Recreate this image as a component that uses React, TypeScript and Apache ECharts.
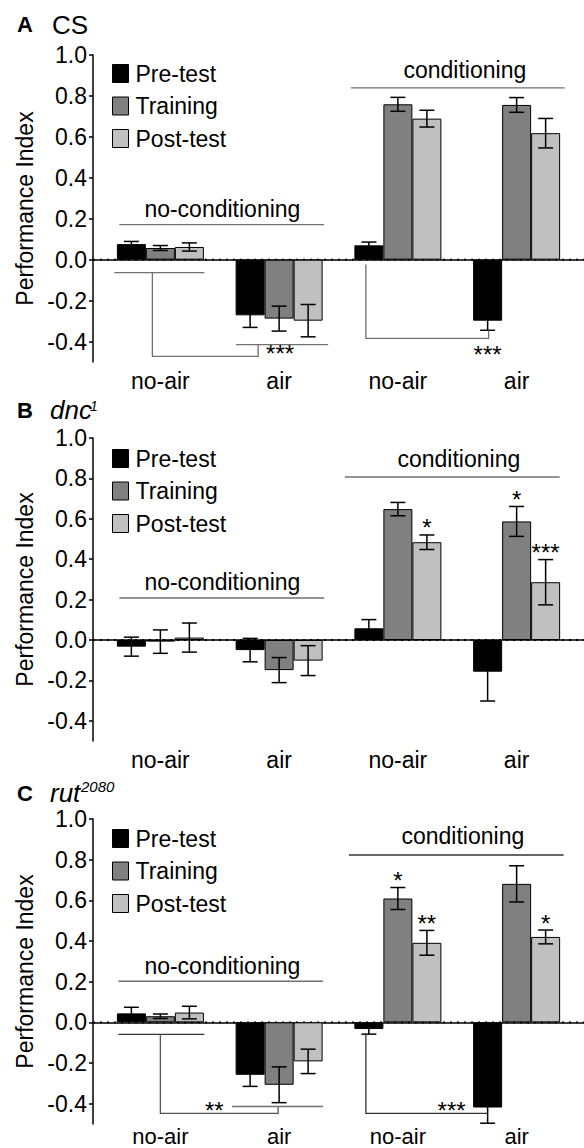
import React, { useEffect, useRef } from 'react';
import * as echarts from 'echarts';

const FONT = '"Liberation Sans", Arial, Helvetica, sans-serif';

const categories = ['no-air', 'air', 'no-air', 'air'];
const seriesNames = ['Pre-test', 'Training', 'Post-test'];
const seriesColors = ['#000000', '#808080', '#c0c0c0'];
const yTickValues = [-0.4, -0.2, 0, 0.2, 0.4, 0.6, 0.8, 1.0];

// Panel A: CS
const csPre = [0.076, -0.272, 0.07, -0.298];
const csPreErr = [0.013, 0.059, 0.016, 0.047];
const csTraining = [0.057, -0.288, 0.759, 0.756];
const csTrainingErr = [0.012, 0.061, 0.034, 0.036];
const csPost = [0.062, -0.298, 0.689, 0.618];
const csPostErr = [0.02, 0.079, 0.041, 0.072];
const csStars: { cat: number; series: number; mark: string }[] = [];

// Panel B: dnc1
const dncPre = [-0.033, -0.05, 0.058, -0.157];
const dncPreErr = [0.047, 0.058, 0.043, 0.145];
const dncTraining = [-0.008, -0.149, 0.648, 0.587];
const dncTrainingErr = [0.058, 0.062, 0.033, 0.074];
const dncPost = [0.012, -0.102, 0.484, 0.286];
const dncPostErr = [0.072, 0.074, 0.036, 0.112];
const dncStars = [
  { cat: 2, series: 2, mark: '*' },
  { cat: 3, series: 1, mark: '*' },
  { cat: 3, series: 2, mark: '***' },
];

// Panel C: rut2080
const rutPre = [0.044, -0.258, -0.033, -0.419];
const rutPreErr = [0.03, 0.057, 0.025, 0.077];
const rutTraining = [0.03, -0.307, 0.609, 0.681];
const rutTrainingErr = [0.011, 0.088, 0.054, 0.089];
const rutPost = [0.048, -0.192, 0.391, 0.42];
const rutPostErr = [0.031, 0.06, 0.061, 0.034];
const rutStars = [
  { cat: 2, series: 1, mark: '*' },
  { cat: 2, series: 2, mark: '**' },
  { cat: 3, series: 2, mark: '*' },
];

const BAR_W = 29;
const CAP = 7.5;
const FS = 23;
const STAR_FS = 24;

type Ann =
  | { kind: 'line'; pts: [number, number, number][]; color?: string }
  | { kind: 'text'; at: [number, number, number]; text: string; star?: boolean };

const annA: Ann[] = [
  { kind: 'text', at: [0, 62, 0.249], text: 'no-conditioning' },
  { kind: 'line', pts: [[0, -41, 0.171], [1, 45, 0.171]] },
  { kind: 'text', at: [2, 67, 0.927], text: 'conditioning' },
  { kind: 'line', pts: [[2, -47, 0.839], [3, 48, 0.839]] },
  { kind: 'line', pts: [[0, -46, -0.063], [0, 44, -0.063]] },
  { kind: 'line', pts: [[0, -8, -0.063], [0, -8, -0.473], [1, -21, -0.473], [1, -21, -0.415]] },
  { kind: 'line', pts: [[1, -43, -0.415], [1, 49, -0.415]] },
  { kind: 'text', at: [1, 1, -0.436], text: '***', star: true },
  { kind: 'line', pts: [[2, -32, -0.024], [2, -32, -0.385], [3, -28, -0.385], [3, -28, -0.346]] },
  { kind: 'text', at: [3, -29, -0.438], text: '***', star: true },
];
const annB: Ann[] = [
  { kind: 'text', at: [0, 62, 0.287], text: 'no-conditioning' },
  { kind: 'line', pts: [[0, -41, 0.208], [1, 45, 0.208]] },
  { kind: 'text', at: [2, 61, 0.896], text: 'conditioning' },
  { kind: 'line', pts: [[2, -53, 0.807], [3, 43, 0.807]] },
];
const annC: Ann[] = [
  { kind: 'text', at: [0, 62, 0.276], text: 'no-conditioning' },
  { kind: 'line', pts: [[0, -42, 0.202], [1, 44, 0.202]] },
  { kind: 'text', at: [2, 65, 0.916], text: 'conditioning' },
  { kind: 'line', pts: [[2, -49, 0.823], [3, 47, 0.823]], color: '#333' },
  { kind: 'line', pts: [[0, -42, -0.059], [0, 44, -0.059]], color: '#333' },
  { kind: 'line', pts: [[0, 0, -0.059], [0, 0, -0.448], [1, -1, -0.448], [1, -1, -0.414]], color: '#555' },
  { kind: 'line', pts: [[1, -47, -0.414], [1, 44, -0.414]] },
  { kind: 'text', at: [0, 54, -0.411], text: '**', star: true },
  { kind: 'line', pts: [[2, -32, -0.059], [2, -32, -0.448], [3, -29, -0.448]], color: '#333' },
  { kind: 'text', at: [3, -65, -0.409], text: '***', star: true },
];

const panels = [
  {
    top: 55, height: 307, legendTop: 57, labelMargin: 7, labelSize: FS,
    values: [csPre, csTraining, csPost], errors: [csPreErr, csTrainingErr, csPostErr],
    stars: csStars, ann: annA,
  },
  {
    top: 438, height: 303, legendTop: 442, labelMargin: 7, labelSize: FS,
    values: [dncPre, dncTraining, dncPost], errors: [dncPreErr, dncTrainingErr, dncPostErr],
    stars: dncStars, ann: annB,
  },
  {
    top: 819, height: 305, legendTop: 822, labelMargin: 1, labelSize: 22,
    values: [rutPre, rutTraining, rutPost], errors: [rutPreErr, rutTrainingErr, rutPostErr],
    stars: rutStars, ann: annC,
  },
];

function buildOption() {
  const grid: any[] = [];
  const xAxis: any[] = [];
  const yAxis: any[] = [];
  const series: any[] = [];
  const legend: any[] = [];

  panels.forEach((p, k) => {
    const bg = 2 * k;
    const fg = 2 * k + 1;
    grid.push({ left: 101, right: 8, top: p.top, height: p.height, outerBoundsMode: 'none', containLabel: false });
    grid.push({ left: 93, right: 0, top: p.top, height: p.height, outerBoundsMode: 'none', containLabel: false });
    xAxis.push({
      type: 'category', gridIndex: bg, data: categories,
      axisLine: { show: false }, axisTick: { show: false },
      axisLabel: {
        fontSize: p.labelSize, color: '#000', margin: p.labelMargin, lineHeight: p.labelSize, fontFamily: FONT,
      },
    });
    xAxis.push({
      type: 'value', gridIndex: fg, min: 0, max: 1,
      axisLine: { show: true, lineStyle: { color: '#000', width: 1.5 } },
      axisTick: { show: false }, axisLabel: { show: false }, splitLine: { show: false },
    });
    yAxis.push({ type: 'value', gridIndex: bg, min: -0.5, max: 1, show: false, splitLine: { show: false } });
    yAxis.push({
      type: 'value', gridIndex: fg, min: -0.5, max: 1,
      axisLine: { show: true, lineStyle: { color: '#000', width: 1.5 } },
      axisTick: { show: true, length: 4, customValues: yTickValues, lineStyle: { color: '#000', width: 1.5 } },
      axisLabel: {
        customValues: yTickValues, formatter: (v: number) => v.toFixed(1),
        fontSize: FS, color: '#000', margin: 6, fontFamily: FONT,
      },
      splitLine: { show: false },
      name: 'Performance Index', nameLocation: 'middle', nameGap: 56,
      nameTextStyle: { fontSize: FS, color: '#000', fontFamily: FONT },
    });

    series.push({
      type: 'line', xAxisIndex: fg, yAxisIndex: fg, data: [[0, 0], [1, 0]],
      symbol: 'none', silent: true, z: 1,
      lineStyle: { color: '#000', width: 1.8, type: [2, 5] },
    });

    p.values.forEach((vals, s) => {
      series.push({
        type: 'bar', name: seriesNames[s], xAxisIndex: bg, yAxisIndex: bg,
        data: vals, barWidth: BAR_W, barGap: '0%', z: 2, silent: true,
        itemStyle: { color: seriesColors[s], borderColor: '#000', borderWidth: 1 },
      });
    });

    const errData: number[][] = [];
    p.values.forEach((vals, s) => {
      vals.forEach((v, i) => {
        const e = p.errors[s][i];
        errData.push([i, s, v - e, v + e]);
      });
    });
    series.push({
      type: 'custom', xAxisIndex: bg, yAxisIndex: bg, data: errData, z: 3, silent: true,
      encode: { x: 0, y: [2, 3] },
      renderItem: (params: any, api: any) => {
        const cat = api.value(0), s = api.value(1), lo = api.value(2), hi = api.value(3);
        const a = api.coord([cat, lo]);
        const b = api.coord([cat, hi]);
        const x = a[0] + (s - 1) * BAR_W;
        const st = { stroke: '#000', lineWidth: 1.5 };
        return {
          type: 'group',
          children: [
            { type: 'line', shape: { x1: x, y1: a[1], x2: x, y2: b[1] }, style: st },
            { type: 'line', shape: { x1: x - CAP, y1: a[1], x2: x + CAP, y2: a[1] }, style: st },
            { type: 'line', shape: { x1: x - CAP, y1: b[1], x2: x + CAP, y2: b[1] }, style: st },
          ],
        };
      },
    });

    if (p.stars.length) {
      const starData = p.stars.map((st) => {
        const v = p.values[st.series][st.cat];
        const e = p.errors[st.series][st.cat];
        return [st.cat, st.series, v + e];
      });
      series.push({
        type: 'custom', xAxisIndex: bg, yAxisIndex: bg, data: starData, z: 4, silent: true,
        renderItem: (params: any, api: any) => {
          const cat = api.value(0), s = api.value(1), top = api.value(2);
          const c = api.coord([cat, top]);
          return {
            type: 'text', x: c[0] + (s - 1) * BAR_W, y: c[1] - 7,
            style: {
              text: p.stars[params.dataIndex].mark, fill: '#000', fontSize: STAR_FS, fontFamily: FONT,
              align: 'center', verticalAlign: 'middle', lineHeight: 14,
            },
          };
        },
      });
    }

    series.push({
      type: 'custom', xAxisIndex: bg, yAxisIndex: bg, data: [[0, 0]], z: 4, silent: true,
      renderItem: (params: any, api: any) => {
        const pt = (cat: number, dx: number, y: number) => {
          const c = api.coord([cat, y]);
          return [c[0] + dx, c[1]];
        };
        const children = p.ann.map((a) => {
          if (a.kind === 'line') {
            return {
              type: 'polyline',
              shape: { points: a.pts.map((q) => pt(q[0], q[1], q[2])) },
              style: { stroke: a.color || '#707070', lineWidth: 1.3, fill: null },
            };
          }
          const c = pt(a.at[0], a.at[1], a.at[2]);
          return {
            type: 'text', x: c[0], y: c[1] + (a.star ? 5 : 0),
            style: {
              text: a.text, fill: '#000', fontSize: a.star ? STAR_FS : FS, fontFamily: FONT,
              align: 'center', verticalAlign: 'middle', lineHeight: a.star ? 14 : undefined,
            },
          };
        });
        return { type: 'group', children };
      },
    });

    legend.push({
      data: seriesNames, orient: 'vertical', left: 107, top: p.legendTop,
      itemWidth: 16, itemHeight: 18, itemGap: 9.5, icon: 'rect', selectedMode: false,
      itemStyle: { borderColor: '#000', borderWidth: 1 },
      textStyle: { fontSize: FS, color: '#000', fontFamily: FONT, padding: [0, 0, 0, 2] },
    });
  });

  const t = (text: string, x: number, y: number, size: number, extra: any = {}) => ({
    type: 'text', x, y, silent: true,
    style: { text, fill: '#000', fontSize: size, fontFamily: FONT, verticalAlign: 'middle', ...extra },
  });

  const graphic = [
    t('A', 17, 24.5, 22, { fontWeight: 'bold' }),
    t('CS', 52, 24.5, 26),
    t('B', 17, 410, 22, { fontWeight: 'bold' }),
    t('dnc', 50, 410, 26, { fontStyle: 'italic' }),
    t('1', 90, 406, 14, { fontStyle: 'italic' }),
    t('C', 17, 793, 22, { fontWeight: 'bold' }),
    t('rut', 50, 793, 26, { fontStyle: 'italic' }),
    t('2080', 81, 786, 15, { fontStyle: 'italic' }),
  ];

  return {
    animation: false,
    backgroundColor: '#fff',
    textStyle: { fontFamily: FONT },
    grid, xAxis, yAxis, series, legend, graphic,
  };
}

export default function App() {
  const ref = useRef<HTMLDivElement>(null);
  useEffect(() => {
    const chart = echarts.init(ref.current!, null, { renderer: 'svg' });
    chart.setOption(buildOption() as any);
    return () => chart.dispose();
  }, []);
  return (
    <div
      ref={ref}
      style={{ position: 'absolute', left: 0, top: 0, width: 584, height: 1148, background: '#fff' }}
    />
  );
}
